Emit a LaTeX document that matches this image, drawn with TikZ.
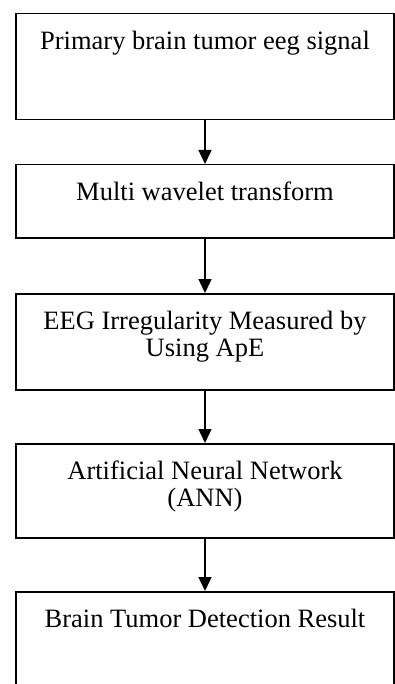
\documentclass[tikz,border=0pt]{standalone}
\usepackage{fontspec}
\setmainfont{Liberation Serif}
\usetikzlibrary{arrows.meta}

\tikzset{
    stagebox/.style={draw,line width=0.75pt,anchor=north,inner xsep=0pt,inner ysep=0pt,
        minimum width=189pt,text height=18pt,font=\fontsize{13.25}{13.6}\selectfont},
    flow/.style={line width=0.75pt,-{Triangle[width=6.5pt,length=7pt]}}
}
\newcommand{\stagetext}[1]{\parbox[t]{184pt}{\centering #1}}

\begin{document}
\begin{tikzpicture}[x=0.5pt,y=-0.5pt]
        \useasboundingbox (0,0) rectangle (395,684);
        \node[stagebox,text depth=35pt] (signal) at (205,13) {\stagetext{Primary brain tumor eeg signal}};
        \node[stagebox,text depth=18.5pt] (wavelet) at (205,164) {\stagetext{Multi wavelet transform}};
        \node[stagebox,text depth=30pt] (ape) at (205,293) {\stagetext{EEG Irregularity Measured by\\Using ApE}};
        \node[stagebox,text depth=29pt] (ann) at (205,443) {\stagetext{Artificial Neural Network\\(ANN)}};
        \node[stagebox,text depth=40pt] (result) at (205,591) {\stagetext{Brain Tumor Detection Result}};
        \draw[flow] (signal.south) -- (wavelet.north);
        \draw[flow] (wavelet.south) -- (ape.north);
        \draw[flow] (ape.south) -- (ann.north);
        \draw[flow] (ann.south) -- (result.north);
    \end{tikzpicture}
\end{document}
